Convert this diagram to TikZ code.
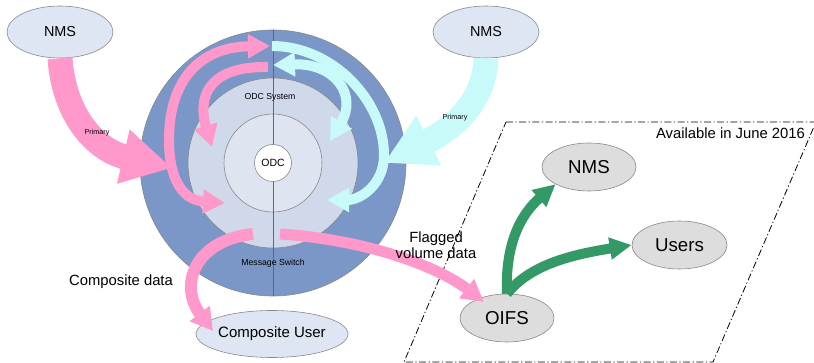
\documentclass[tikz,border=0pt]{standalone}
\usepackage{fontspec}
\setmainfont{Liberation Sans}
\usetikzlibrary{arrows.meta,shapes.geometric}
\definecolor{ringOut}{HTML}{7A97C7}
\definecolor{ringMid}{HTML}{CFD9EA}
\definecolor{ringIn}{HTML}{DEE5F1}
\definecolor{pinkA}{HTML}{FF99CC}
\definecolor{cyanA}{HTML}{C8FAFA}
\definecolor{greenA}{HTML}{339966}
\definecolor{ellBlue}{HTML}{DDE6F2}
\definecolor{ellGray}{HTML}{DDDDDD}
\definecolor{lineGray}{HTML}{888888}
\tikzset{
  ell/.style={ellipse, draw=lineGray, line width=0.6pt, inner sep=0pt},
  ring/.style={circle, draw=lineGray, line width=0.6pt, inner sep=0pt},
  bigarrow/.style={line width=25pt, -{Triangle[width=52pt,length=50pt]}},
  midarrow/.style={line width=10pt, -{Triangle[width=23pt,length=22pt]}},
  midboth/.style={line width=10pt, {Triangle[width=23pt,length=22pt]}-{Triangle[width=23pt,length=22pt]}},
  tiny/.style={font=\fontsize{7.2}{8}\selectfont, inner sep=0pt},
  small/.style={font=\fontsize{8.7}{10}\selectfont, inner sep=0pt},
  med/.style={font=\fontsize{14.8}{16}\selectfont, inner sep=0pt},
  large/.style={font=\fontsize{18.7}{20}\selectfont},
}
\begin{document}
\begin{tikzpicture}[x=1pt,y=-1pt]
\useasboundingbox (0,0) rectangle (814,363);

% rings
\node[ring, fill=ringOut, minimum size=266pt] (outer) at (273,163) {};
\node[ring, fill=ringMid, minimum size=170pt] (ring) at (273,163) {};
\node[ring, fill=ringIn, minimum size=98pt] (inner) at (273,163) {};
\draw[draw=ringOut!70!black, line width=0.7pt] (outer.north) -- (outer.south);
\node[ring, fill=white, minimum size=37pt, font=\fontsize{10.5}{12}\selectfont] (odc) at (273,163) {ODC};
\node[small] (odcsys) at (270,97) {ODC System};
\node[small] (msgsw) at (273,263) {Message Switch};

% ellipses
\node[ell, fill=ellBlue, minimum width=106pt, minimum height=52pt, font=\fontsize{14.4}{16}\selectfont] (nmsL) at (60,32) {NMS};
\node[ell, fill=ellBlue, minimum width=106pt, minimum height=52pt, font=\fontsize{14.4}{16}\selectfont] (nmsR) at (486,32) {NMS};
\node[ell, fill=ellBlue, minimum width=121pt, minimum height=47pt, font=\fontsize{15}{17}\selectfont] (cuser) at (272,334) {Composite User};
\node[ell, fill=ellGray, minimum width=94pt, minimum height=48pt, large] (nmsB) at (589,167) {NMS};
\node[ell, fill=ellGray, minimum width=95pt, minimum height=48pt, large] (users) at (679.5,245) {Users};
\node[ell, fill=ellGray, minimum width=94pt, minimum height=48pt, large] (oifs) at (507,318) {OIFS};

% dash-dot region
\coordinate (pa) at (506,122);
\coordinate (pb) at (816,122);
\coordinate (pc) at (713,362);
\coordinate (pd) at (404,362);
\draw[line width=0.8pt, dash pattern=on 7pt off 2.5pt on 1.2pt off 2.5pt] (pa) -- (pb) -- (pc) -- (pd) -- cycle;
\node[med, anchor=east] (avail) at (805,133) {Available in June 2016};

% arrow end points
\coordinate (pTipL) at (172,168);
\coordinate (cTipR) at (384,163);
\coordinate (poBot) at (225,203);
\coordinate (poTop) at (270,46);
\coordinate (piStart) at (268,67);
\coordinate (piTip) at (212,147);
\coordinate (coStart) at (272,46);
\coordinate (coTip) at (327,200);
\coordinate (ciTop) at (273,65);
\coordinate (ciTip) at (330,141);
\coordinate (compStart) at (253,234);
\coordinate (compTip) at (213,331);
\coordinate (flagStart) at (280,234);
\coordinate (flagTip) at (484,302);

% big primary arrows
\draw[bigarrow, draw=pinkA] (nmsL.south) .. controls (64,115) and (95,150) .. (pTipL);
\draw[bigarrow, draw=cyanA] (nmsR.south) .. controls (484,105) and (450,130) .. (cTipR);

% pink loops
\draw[midboth, draw=pinkA] (poBot) .. controls (180,200) and (169,175) .. (169,140) .. controls (169,80) and (200,47) .. (poTop);
\draw[midarrow, draw=pinkA] (piStart) .. controls (205,66) and (198,100) .. (piTip);
% cyan loops
\draw[midarrow, draw=cyanA] (coStart) .. controls (332,46) and (384,100) .. (384,155) .. controls (384,185) and (360,200) .. (coTip);
\draw[midboth, draw=cyanA] (ciTop) .. controls (335,63) and (358,95) .. (ciTip);

% bottom pink arrows
\draw[line width=12pt, draw=pinkA, -{Triangle[width=24pt,length=22pt]}] (compStart) .. controls (195,240) and (178,285) .. (compTip);
\draw[line width=11pt, draw=pinkA, -{Triangle[width=23pt,length=22pt]}] (flagStart) .. controls (370,240) and (440,268) .. (flagTip);

% green arrows
\draw[line width=10pt, draw=greenA, -{Triangle[width=21pt,length=22pt]}] (oifs.north) .. controls (505,245) and (520,215) .. (nmsB.south west);
\draw[line width=10pt, draw=greenA, -{Triangle[width=21pt,length=22pt]}] (oifs.north) .. controls (530,265) and (570,255) .. (users.west);

% labels
\node[tiny] (primL) at (97,133) {Primary};
\node[tiny] (primR) at (455,118) {Primary};
\node[med, anchor=west] (compdata) at (69,282) {Composite data};
\node[med, align=center] (flagged) at (436,245) {Flagged\\volume data};
\end{tikzpicture}
\end{document}
